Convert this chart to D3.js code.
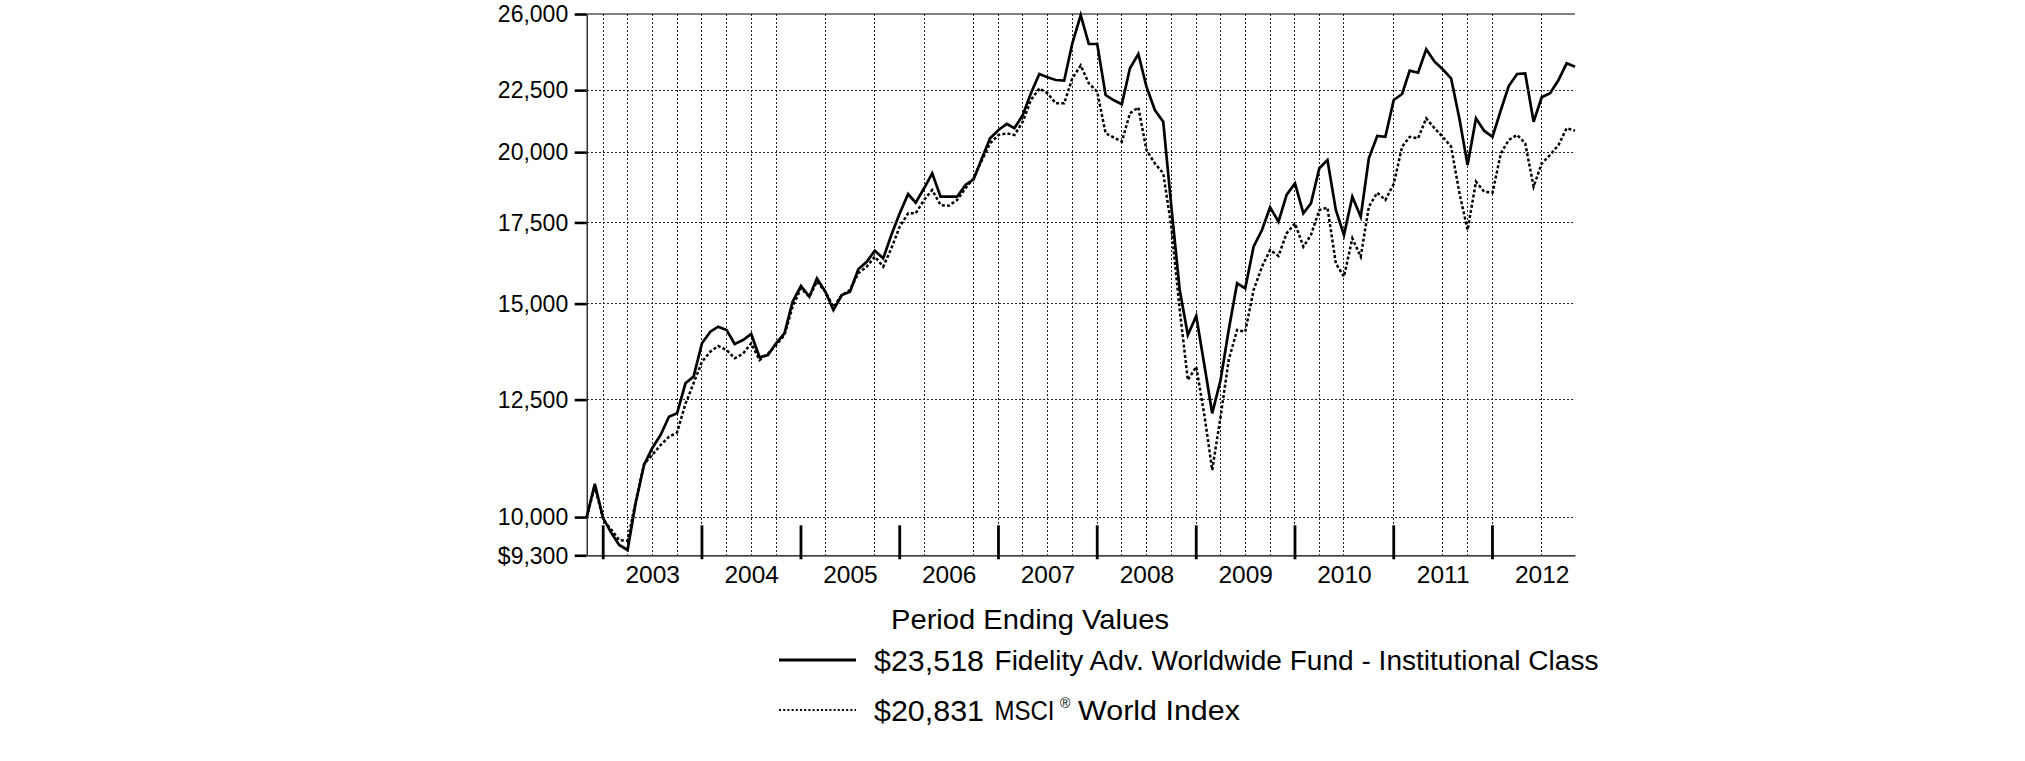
<!DOCTYPE html>
<html>
<head>
<meta charset="utf-8">
<script src="https://cdn.jsdelivr.net/npm/d3@7"></script>
<style>
  html, body { margin: 0; padding: 0; background: #fff; }
  svg { display: block; font-family: "Liberation Sans", Arial, sans-serif; }
</style>
</head>
<body>
<svg id="chart" width="2025" height="761"></svg>
<script>
// ---------------- DATA ----------------
// Monthly period-ending values, Oct 2002 .. Oct 2012 (121 points)
const fund = [
  10000, 10650, 9976, 9696, 9485, 9394, 10270, 11040, 11397, 11687,
  12101, 12179, 12894, 13057, 13910, 14220, 14357, 14267, 13892, 13999,
  14159, 13546, 13604, 13910, 14178, 15054, 15509, 15199, 15738, 15345,
  14817, 15246, 15345, 16011, 16242, 16585, 16349, 17087, 17805, 18470,
  18169, 18673, 19211, 18377, 18377, 18377, 18790, 18993, 19768, 20532,
  20860, 21099, 20927, 21463, 22365, 23200, 23054, 22937, 22910, 24591,
  25950, 24560, 24560, 22292, 22081, 21902, 23453, 24098, 22647, 21666,
  21190, 18031, 15392, 14131, 14651, 13307, 12179, 12974, 14267, 15590,
  15442, 16711, 17251, 18011, 17525, 18438, 18849, 17805, 18148, 19396,
  19703, 17918, 17087, 18377, 17693, 19768, 20623, 20590, 22081, 22336,
  23346, 23256, 24313, 23749, 23408, 23010, 21300, 19518, 21328, 20831,
  20590, 21666, 22677, 23200, 23226, 21190, 22196, 22365, 22937, 23675,
  23518
];
const msci = [
  10000, 10600, 9950, 9758, 9573, 9560, 10300, 11060, 11250, 11466,
  11648, 11745, 12400, 12894, 13430, 13692, 13840, 13736, 13520, 13640,
  13910, 13476, 13640, 13860, 14131, 14911, 15442, 15199, 15639, 15345,
  14900, 15246, 15392, 15889, 16089, 16398, 16089, 16661, 17360, 17805,
  17805, 18262, 18613, 18088, 18065, 18262, 18673, 19030, 19703, 20337,
  20662, 20727, 20662, 21190, 22081, 22576, 22365, 21944, 21944, 23010,
  23580, 22792, 22433, 20727, 20571, 20402, 21531, 21775, 20082, 19578,
  19211, 17360, 14817, 12974, 13307, 12101, 10936, 12101, 13476, 14267,
  14220, 15392, 16089, 16607, 16420, 17142, 17472, 16711, 17087, 17918,
  18000, 16193, 15787, 16981, 16398, 18031, 18517, 18262, 18827, 20210,
  20590, 20532, 21328, 20927, 20590, 20210, 18494, 17251, 18910, 18553,
  18517, 19955, 20467, 20662, 20337, 18730, 19578, 19892, 20273, 20927,
  20831
];
const startYear = 2002, startMonth = 10;   // first value: end of October 2002
const yTickValues = [9300, 10000, 12500, 15000, 17500, 20000, 22500, 26000];
const yTickLabels = ["$9,300", "10,000", "12,500", "15,000", "17,500", "20,000", "22,500", "26,000"];
const yGridValues = [10000, 12500, 15000, 17500, 20000, 22500];
const years = [2003, 2004, 2005, 2006, 2007, 2008, 2009, 2010, 2011, 2012];
// vertical dotted grid lines at these month-ends [year, month]
const gridMonths = [
  [2002,12],[2003,3],[2003,6],[2003,9],[2003,12],[2004,3],[2004,6],[2004,9],
  [2005,3],[2005,9],[2006,3],[2006,9],[2006,12],[2007,3],[2007,6],[2007,9],
  [2007,12],[2008,3],[2008,6],[2008,9],[2008,12],[2009,3],[2009,6],[2009,9],
  [2009,12],[2010,3],[2010,6],[2010,12],[2011,6],[2011,9],[2011,12],[2012,6]
];
const legendTitle = "Period Ending Values";
const seriesNames = ["Fidelity Adv. Worldwide Fund - Institutional Class", "MSCI"];
const seriesEnd = ["$23,518", "$20,831"];

// ---------------- SCALES ----------------
// a month-end is placed at the first day of the following month
const monthEnd = (y, m) => new Date(Date.UTC(y, m, 1));
const dates = fund.map((_, i) => monthEnd(startYear, startMonth + i));

const L = 586.7, R = 1575, T = 14, B = 555.3;
const x = d3.scaleUtc().domain([dates[0], dates[dates.length - 1]]).range([L, R]);
const y = d3.scaleLog().domain([9300, 26000]).range([B, T]);

const svg = d3.select("#chart");
svg.append("rect").attr("width", 2025).attr("height", 761).attr("fill", "#fff");

// ---------------- GRID ----------------
const grid = svg.append("g").attr("stroke", "#222").attr("stroke-width", 1)
  .attr("stroke-dasharray", "2,2").attr("shape-rendering", "crispEdges");
grid.selectAll("line.h").data(yGridValues).join("line").attr("class", "h")
  .attr("x1", L).attr("x2", R).attr("y1", d => y(d)).attr("y2", d => y(d));
grid.selectAll("line.v").data(gridMonths).join("line").attr("class", "v")
  .attr("x1", d => x(monthEnd(d[0], d[1]))).attr("x2", d => x(monthEnd(d[0], d[1])))
  .attr("y1", T).attr("y2", B);

// top frame line
svg.append("line").attr("x1", L).attr("x2", R).attr("y1", y(26000)).attr("y2", y(26000))
  .attr("stroke", "#000").attr("stroke-width", 1.2);

// ---------------- Y AXIS ----------------
const yAxis = d3.axisLeft(y).tickValues(yTickValues)
  .tickFormat((d, i) => yTickLabels[i]).tickSizeInner(12).tickSizeOuter(0).tickPadding(6.5);
const gy = svg.append("g").attr("transform", `translate(${L},0)`).call(yAxis);
gy.select(".domain").attr("stroke", "#000").attr("stroke-width", 1.2);
gy.selectAll(".tick line").attr("stroke", "#000").attr("stroke-width", 2.6);
gy.selectAll(".tick text").attr("font-size", 23).attr("fill", "#000")
  .attr("font-family", '"Liberation Sans", Arial, sans-serif')
  .attr("dy", "0.34em");

// ---------------- X AXIS ----------------
const xAxis = d3.axisBottom(x).tickValues(years.map(yr => new Date(Date.UTC(yr, 6, 1))))
  .tickFormat(d => d.getUTCFullYear()).tickSize(0).tickPadding(10);
const gx = svg.append("g").attr("transform", `translate(0,${B})`).call(xAxis);
gx.select(".domain").attr("stroke", "#000").attr("stroke-width", 1.2);
gx.selectAll(".tick text").attr("font-size", 24.5).attr("fill", "#000")
  .attr("font-family", '"Liberation Sans", Arial, sans-serif');

// year boundary marks
svg.append("g").selectAll("line").data(years).join("line")
  .attr("x1", d => x(new Date(Date.UTC(d, 0, 1)))).attr("x2", d => x(new Date(Date.UTC(d, 0, 1))))
  .attr("y1", B - 30).attr("y2", B + 4)
  .attr("stroke", "#000").attr("stroke-width", 2.8);

// ---------------- LINES ----------------
const line = d3.line().x((d, i) => x(dates[i])).y(d => y(d));
svg.append("path").datum(msci).attr("d", line).attr("fill", "none")
  .attr("stroke", "#000").attr("stroke-width", 2.5).attr("stroke-dasharray", "3,2.2");
svg.append("path").datum(fund).attr("d", line).attr("fill", "none")
  .attr("stroke", "#000").attr("stroke-width", 2.7).attr("stroke-linejoin", "miter");

// ---------------- LEGEND ----------------
const lg = svg.append("g").attr("font-family", '"Liberation Sans", Arial, sans-serif').attr("fill", "#000");
lg.append("text").attr("x", 891).attr("y", 629).attr("font-size", 28)
  .attr("textLength", 278).attr("lengthAdjust", "spacingAndGlyphs").text(legendTitle);

lg.append("line").attr("x1", 779).attr("x2", 856).attr("y1", 660).attr("y2", 660)
  .attr("stroke", "#000").attr("stroke-width", 3);
lg.append("text").attr("x", 874).attr("y", 671).attr("font-size", 29)
  .attr("textLength", 110).attr("lengthAdjust", "spacingAndGlyphs").text(seriesEnd[0]);
lg.append("text").attr("x", 994.5).attr("y", 670).attr("font-size", 27)
  .attr("textLength", 604).attr("lengthAdjust", "spacingAndGlyphs").text(seriesNames[0]);

lg.append("line").attr("x1", 779).attr("x2", 856).attr("y1", 710).attr("y2", 710)
  .attr("stroke", "#000").attr("stroke-width", 2).attr("stroke-dasharray", "2,2.2");
lg.append("text").attr("x", 874).attr("y", 721).attr("font-size", 29)
  .attr("textLength", 110).attr("lengthAdjust", "spacingAndGlyphs").text(seriesEnd[1]);
lg.append("text").attr("x", 994.5).attr("y", 720).attr("font-size", 27)
  .attr("textLength", 60).attr("lengthAdjust", "spacingAndGlyphs").text(seriesNames[1]);
lg.append("text").attr("x", 1060).attr("y", 708).attr("font-size", 14).text("®");
lg.append("text").attr("x", 1078).attr("y", 720).attr("font-size", 27)
  .attr("textLength", 162).attr("lengthAdjust", "spacingAndGlyphs").text("World Index");
</script>
</body>
</html>
